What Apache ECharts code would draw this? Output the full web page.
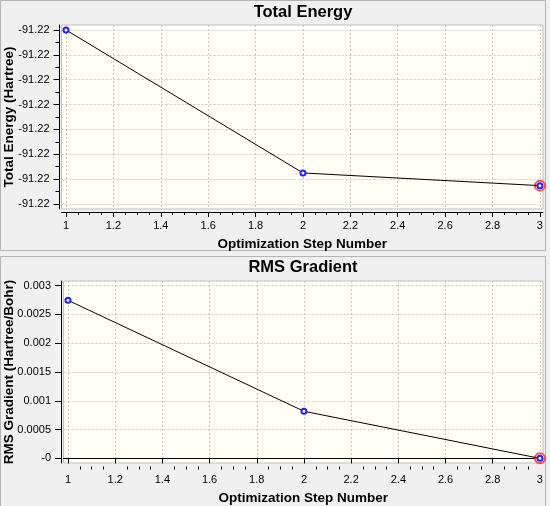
<!DOCTYPE html>
<html>
<head>
<meta charset="utf-8">
<script src="https://cdn.jsdelivr.net/npm/echarts@6/dist/echarts.min.js"></script>
<style>
  html, body { margin: 0; padding: 0; background: #f0f0f0; }
  #chart { width: 550px; height: 506px; }
</style>
</head>
<body>
<div id="chart"></div>
<script>
// optimization steps and their values
const steps = [1, 2, 3]
const energy = [-91.22000, -91.220575, -91.220626]
const rmsGrad = [0.002745, 0.000818, 0.0000005]

// tick labels
const stepTicks = [1, 1.2, 1.4, 1.6, 1.8, 2, 2.2, 2.4, 2.6, 2.8, 3]
const energyTicks = [-91.2207, -91.2206, -91.2205, -91.2204, -91.2203, -91.2202, -91.2201, -91.2200]
const gradTicks = [0, 0.0005, 0.001, 0.0015, 0.002, 0.0025, 0.003]
const gradTickLabels = ['-0', '0.0005', '0.001', '0.0015', '0.002', '0.0025', '0.003']

// minor ticks sit between the major ones
const subdivide = (ticks, n) => {
  const out = []
  for (let i = 0; i < ticks.length - 1; i++) {
    for (let k = 1; k < n; k++) out.push(ticks[i] + (ticks[i + 1] - ticks[i]) * k / n)
  }
  return out
}
const stepMinor = subdivide(stepTicks, 4)
const energyMinor = subdivide(energyTicks, 2)

const labelFont = { fontFamily: 'Liberation Sans', fontSize: 11, color: '#000' }
const nameFont = { fontFamily: 'Liberation Sans', fontSize: 13.5, fontWeight: 'bold', color: '#000' }
const titleFont = { fontFamily: 'Liberation Sans', fontSize: 16.5, fontWeight: 'bold', color: '#000' }

const splitLine = { show: true, lineStyle: { color: '#c8c8c8', type: [2, 2], width: 1 } }

const xMajor = (gridIndex, offset) => ({
  type: 'value', gridIndex, position: 'bottom', min: 0.981, max: 3.013, offset,
  name: 'Optimization Step Number', nameLocation: 'middle', nameGap: 25, nameMoveOverlap: false,
  nameTextStyle: nameFont,
  axisLine: { lineStyle: { color: '#000' } },
  axisTick: { length: 5, customValues: stepTicks, lineStyle: { color: '#000' } },
  axisLabel: { ...labelFont, margin: 8, customValues: stepTicks, formatter: v => String(+v.toFixed(1)) },
  splitLine
})
const xMinor = (gridIndex, offset) => ({
  type: 'value', gridIndex, position: 'bottom', min: 0.981, max: 3.013, offset,
  axisLine: { show: false },
  axisTick: { length: 3, customValues: stepMinor, lineStyle: { color: '#000' } },
  axisLabel: { show: false },
  splitLine: { show: false }
})

const grid = {
  show: true, backgroundColor: '#fffff6', borderColor: '#c0c0c0', borderWidth: 1,
  containLabel: false, outerBoundsMode: 'none'
}

const lineSeries = (xi, yi, data) => ({
  type: 'line', xAxisIndex: xi, yAxisIndex: yi,
  data: steps.map((s, i) => [s, data[i]]),
  symbol: 'emptyCircle', symbolSize: 5,
  itemStyle: { color: '#2020ff', borderWidth: 0.8 },
  lineStyle: { color: '#000', width: 1 },
  animation: false
})
const lastMark = (xi, yi, data) => ({
  type: 'scatter', xAxisIndex: xi, yAxisIndex: yi,
  data: [[steps[steps.length - 1], data[data.length - 1]]],
  symbol: 'emptyCircle', symbolSize: 10,
  itemStyle: { color: '#ff2020', borderWidth: 1.2 },
  z: 1, animation: false
})

const myChart = echarts.init(document.getElementById('chart'))
const option = {
  backgroundColor: '#f0f0f0',
  animation: false,
  graphic: [
    { type: 'rect', shape: { x: 0.5, y: 0.5, width: 545, height: 250 }, style: { fill: 'none', stroke: '#b4b4b4' }, silent: true },
    { type: 'rect', shape: { x: 0.5, y: 256.5, width: 545, height: 250 }, style: { fill: 'none', stroke: '#b4b4b4' }, silent: true }
  ],
  title: [
    { text: 'Total Energy', left: 303, top: 4, padding: 0, textAlign: 'center', textStyle: titleFont },
    { text: 'RMS Gradient', left: 303, top: 259, padding: 0, textAlign: 'center', textStyle: titleFont }
  ],
  grid: [
    { ...grid, left: 61.5, right: 7, top: 25, height: 184 },
    { ...grid, left: 63.5, right: 7, top: 281, height: 182 }
  ],
  xAxis: [xMajor(0, 3), xMinor(0, 3), xMajor(1, 3.5), xMinor(1, 3.5)],
  yAxis: [
    {
      type: 'value', gridIndex: 0, position: 'left', min: -91.22072, max: -91.21998, offset: 2,
      name: 'Total Energy (Hartree)', nameLocation: 'middle', nameGap: 43, nameMoveOverlap: false,
      nameTextStyle: nameFont,
      axisLine: { show: true, lineStyle: { color: '#000' } },
      axisTick: { show: true, length: 6, customValues: energyTicks, lineStyle: { color: '#000' } },
      axisLabel: { ...labelFont, margin: 10, customValues: energyTicks, formatter: v => v.toFixed(2) },
      splitLine
    },
    {
      type: 'value', gridIndex: 0, position: 'left', min: -91.22072, max: -91.21998, offset: 2,
      axisLine: { show: false },
      axisTick: { show: true, length: 4, customValues: energyMinor, lineStyle: { color: '#000' } },
      axisLabel: { show: false },
      splitLine: { show: false }
    },
    {
      type: 'value', gridIndex: 1, position: 'left', min: -0.00008, max: 0.00308, offset: 2.5,
      name: 'RMS Gradient (Hartree/Bohr)', nameLocation: 'middle', nameGap: 45, nameMoveOverlap: false,
      nameTextStyle: nameFont,
      axisLine: { show: true, lineStyle: { color: '#000' } },
      axisTick: { show: true, length: 6, customValues: gradTicks, lineStyle: { color: '#000' } },
      axisLabel: {
        ...labelFont, margin: 10, customValues: gradTicks,
        formatter: v => {
          let best = 0
          gradTicks.forEach((t, i) => { if (Math.abs(t - v) < Math.abs(gradTicks[best] - v)) best = i })
          return gradTickLabels[best]
        }
      },
      splitLine
    }
  ],
  series: [
    lastMark(0, 0, energy),
    lineSeries(0, 0, energy),
    lastMark(2, 2, rmsGrad),
    lineSeries(2, 2, rmsGrad)
  ]
}
option && myChart.setOption(option)
</script>
</body>
</html>
